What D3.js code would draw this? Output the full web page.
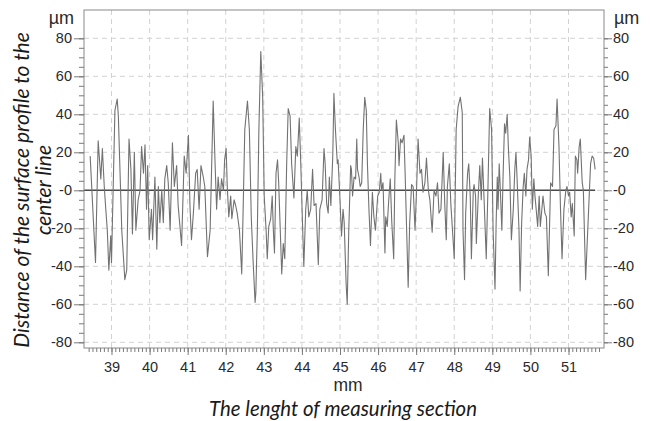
<!DOCTYPE html>
<html>
<head>
<meta charset="utf-8">
<script src="https://cdn.jsdelivr.net/npm/d3@7"></script>
<style>
	body { margin: 0; background: #ffffff; }
	svg { display: block; }
	.profile-axis line { stroke: #7a7a7a; }
	.profile-grid line { stroke: #d2d2d2; stroke-dasharray: 5,4; }
	.profile-title { font-family: Lato, "Open Sans", sans-serif; font-style: italic; fill: #1a1a1a; }
	.profile-unit { font-family: "Liberation Sans", Arial, sans-serif; fill: #2a2a2a; }
</style>
</head>
<body>
<svg id="chart" width="651" height="421"></svg>
<script>

const aProfileMm = [
	38.44, 38.58, 38.65, 38.72, 38.76, 38.81, 38.85, 38.89, 38.93, 38.98, 39.00, 39.09, 39.15, 39.18, 39.27, 39.35,
	39.40, 39.46, 39.51, 39.55, 39.60, 39.64, 39.70, 39.75, 39.79, 39.84, 39.88, 39.92, 39.95, 39.99, 40.05, 40.08,
	40.14, 40.19, 40.23, 40.27, 40.32, 40.36, 40.40, 40.45, 40.49, 40.54, 40.60, 40.65, 40.71, 40.75, 40.84, 40.91,
	40.96, 41.02, 41.06, 41.10, 41.15, 41.21, 41.25, 41.30, 41.35, 41.41, 41.45, 41.52, 41.59, 41.67, 41.72, 41.76,
	41.80, 41.85, 41.89, 41.94, 41.97, 42.01, 42.04, 42.08, 42.13, 42.16, 42.22, 42.26, 42.30, 42.36, 42.42, 42.46,
	42.50, 42.57, 42.62, 42.67, 42.72, 42.77, 42.79, 42.83, 42.87, 42.92, 42.97, 43.01, 43.06, 43.09, 43.13, 43.18,
	43.22, 43.25, 43.28, 43.32, 43.36, 43.39, 43.42, 43.47, 43.51, 43.55, 43.60, 43.64, 43.69, 43.73, 43.79, 43.84,
	43.88, 43.93, 43.97, 44.01, 44.05, 44.10, 44.14, 44.18, 44.23, 44.28, 44.32, 44.37, 44.43, 44.47, 44.53, 44.58,
	44.61, 44.65, 44.69, 44.72, 44.76, 44.81, 44.84, 44.88, 44.93, 44.95, 45.00, 45.04, 45.08, 45.11, 45.16, 45.19,
	45.23, 45.28, 45.30, 45.33, 45.37, 45.41, 45.44, 45.46, 45.50, 45.53, 45.57, 45.61, 45.65, 45.69, 45.72, 45.76,
	45.80, 45.85, 45.89, 45.93, 45.99, 46.03, 46.07, 46.09, 46.13, 46.18, 46.20, 46.24, 46.28, 46.32, 46.36, 46.41,
	46.44, 46.48, 46.53, 46.55, 46.59, 46.63, 46.68, 46.71, 46.75, 46.79, 46.83, 46.88, 46.92, 46.97, 47.01, 47.05,
	47.10, 47.14, 47.18, 47.23, 47.27, 47.32, 47.36, 47.42, 47.47, 47.52, 47.56, 47.60, 47.65, 47.71, 47.75, 47.79,
	47.82, 47.87, 47.91, 48.00, 48.05, 48.10, 48.16, 48.21, 48.23, 48.27, 48.30, 48.35, 48.38, 48.42, 48.45, 48.50,
	48.52, 48.56, 48.58, 48.63, 48.67, 48.71, 48.74, 48.78, 48.84, 48.88, 48.93, 48.98, 49.02, 49.07, 49.10, 49.13,
	49.15, 49.18, 49.21, 49.25, 49.28, 49.32, 49.35, 49.39, 49.42, 49.46, 49.50, 49.55, 49.59, 49.62, 49.65, 49.70,
	49.73, 49.77, 49.81, 49.84, 49.88, 49.91, 49.95, 49.98, 50.02, 50.05, 50.09, 50.12, 50.16, 50.19, 50.23, 50.26,
	50.30, 50.33, 50.38, 50.42, 50.47, 50.53, 50.58, 50.62, 50.67, 50.70, 50.75, 50.79, 50.83, 50.88, 50.93, 50.96,
	51.00, 51.03, 51.07, 51.10, 51.15, 51.18, 51.22, 51.24, 51.28, 51.31, 51.36, 51.39, 51.45, 51.52, 51.58, 51.62,
	51.66, 51.70
];

const aProfileUm = [
	18, -38, 26, 6, 22, 2, -10, -21, -42, -24, -38, 42, 48, 39, -21, -47,
	-42, 27, 11, -23, 20, -21, -5, 0, 23, 9, 24, -10, 13, -26, -10, -26,
	7, -31, 2, -17, 0, -17, 6, 13, 4, -21, 25, 2, 13, -8, -29, 18,
	9, 29, -8, -26, -12, 9, 11, -10, 13, 7, 2, -35, -21, 47, 14, -10,
	7, -5, 6, 0, 16, 22, 2, -14, -3, -15, -5, -8, -12, -21, -44, -7,
	32, 47, 32, -14, -38, -59, -54, -21, 32, 73, 49, -3, -21, -36, -19, -15,
	-3, -21, -33, 9, 16, 4, -14, -44, -28, -36, 14, 43, 39, 14, -4, 23,
	18, 38, 14, -14, -40, -10, 0, -14, -10, 11, -8, -7, -39, -10, -5, 22,
	14, -7, -12, 7, -8, 18, 51, 32, 14, 16, -5, -24, -10, -17, -49, -60,
	-21, 13, 11, -3, 7, 6, 27, 11, 7, 2, 4, 32, 49, 42, 14, -10,
	-29, -1, -14, -21, -3, -1, 9, 0, 4, -33, -14, -19, -5, 6, -17, -36,
	6, 37, 25, 13, 27, 25, 29, 9, -21, -51, -17, 3, 2, -21, 0, 27,
	9, 11, -1, 4, 17, 0, -5, -22, 0, -3, 4, -12, -10, 20, -7, -26,
	2, 14, -7, -36, 32, 44, 49, 41, -21, -47, -12, 9, 14, -3, -36, 0,
	3, -3, -28, -3, 13, -5, 17, -3, -36, -3, 43, 32, -21, -52, -17, 7,
	-10, 14, 0, -21, 6, 35, 30, 40, 23, 7, -26, -10, 11, 20, 6, -21,
	-53, -17, 2, 9, -3, 11, 16, 28, 18, -10, 6, -3, -12, -19, -3, -19,
	-10, -3, -12, -14, -45, 4, 2, 32, 34, 48, 23, -10, -36, -10, 0, 2,
	-3, -1, -14, -7, -24, 18, 16, 9, 23, 27, 4, 0, -47, -14, 14, 18,
	17, 11
];

const aXTickValues = [39, 40, 41, 42, 43, 44, 45, 46, 47, 48, 49, 50, 51];
const aYTickValues = [80, 60, 40, 20, 0, -20, -40, -60, -80];
const aYTickLabels = ['80', '60', '40', '20', '-0', '-20', '-40', '-60', '-80'];
const strXUnit = 'mm';
const strYUnit = '\u00b5m';
const strXTitle = 'The lenght of measuring section';
const aYTitleLines = ['Distance of the surface profile to the', 'center line'];

function DrawProfileChart(vSelector)
{
	var sSvg = d3.select(vSelector);

	var nLeft = 84, nRight = 604, nTop = 10, nBottom = 348;

	var xScale = d3.scaleLinear().domain([38.278, 51.932]).range([nLeft, nRight]);
	var yScale = d3.scaleLinear().domain([-83, 94.9]).range([nBottom, nTop]);

	var aData = aProfileMm.map(function(fMm, i) { return { mm: fMm, um: aProfileUm[i] }; });

	// dashed grid
	var sGrid = sSvg.append('g').attr('class', 'profile-grid');
	sGrid.selectAll('.gx')
		.data(aXTickValues)
		.enter()
			.append('line')
			.attr('class', 'gx')
			.attr('x1', function(d) { return xScale(d); })
			.attr('x2', function(d) { return xScale(d); })
			.attr('y1', nTop)
			.attr('y2', nBottom);
	sGrid.selectAll('.gy')
		.data(aYTickValues)
		.enter()
			.append('line')
			.attr('class', 'gy')
			.attr('x1', nLeft)
			.attr('x2', nRight)
			.attr('y1', function(d) { return yScale(d); })
			.attr('y2', function(d) { return yScale(d); });

	// centre line
	sSvg.append('line')
		.attr('x1', nLeft)
		.attr('x2', xScale(d3.max(aProfileMm)))
		.attr('y1', yScale(0))
		.attr('y2', yScale(0))
		.style('stroke', '#4a4a4a')
		.style('stroke-width', 1.4);

	// profile
	var fnLine = d3.line()
		.x(function(d) { return xScale(d.mm); })
		.y(function(d) { return yScale(d.um); });

	sSvg.append('path')
		.datum(aData)
		.attr('d', fnLine)
		.style('fill', 'none')
		.style('stroke', '#727272')
		.style('stroke-width', 1.1)
		.style('stroke-linejoin', 'round');

	// frame
	sSvg.append('rect')
		.attr('x', nLeft)
		.attr('y', nTop)
		.attr('width', nRight - nLeft)
		.attr('height', nBottom - nTop)
		.style('fill', 'none')
		.style('stroke', '#8a8a8a')
		.style('stroke-width', 1);

	// axes
	var aYMinor = d3.range(-80, 81, 5);
	var aXMinor = d3.range(384, 519).map(function(n) { return n / 10; });

	function AddAxis(fnAxis, strTransform)
	{
		var sAxis = sSvg.append('g')
			.attr('class', 'profile-axis')
			.attr('transform', strTransform)
			.call(fnAxis);
		sAxis.select('.domain').remove();
		sAxis.selectAll('text')
			.style('font-family', '"Liberation Sans", Arial, sans-serif')
			.style('font-size', '14.5px')
			.style('fill', '#2a2a2a');
		return sAxis;
	}

	AddAxis(d3.axisLeft(yScale).tickValues(aYMinor).tickSize(5).tickFormat(''), 'translate(' + nLeft + ',0)');
	AddAxis(d3.axisLeft(yScale).tickValues(aYTickValues).tickSize(10).tickPadding(2)
		.tickFormat(function(d, i) { return aYTickLabels[i]; }), 'translate(' + nLeft + ',0)');

	AddAxis(d3.axisRight(yScale).tickValues(aYMinor).tickSize(4).tickFormat(''), 'translate(' + nRight + ',0)');
	AddAxis(d3.axisRight(yScale).tickValues(aYTickValues).tickSize(8).tickPadding(1)
		.tickFormat(function(d, i) { return aYTickLabels[i]; }), 'translate(' + nRight + ',0)');

	AddAxis(d3.axisBottom(xScale).tickValues(aXMinor).tickSize(4).tickFormat(''), 'translate(0,' + nBottom + ')');
	AddAxis(d3.axisBottom(xScale).tickValues(aXTickValues).tickSize(7).tickPadding(7)
		.tickFormat(d3.format('d')), 'translate(0,' + nBottom + ')');

	// units
	sSvg.append('text').attr('class', 'profile-unit').style('font-size', '18px')
		.attr('x', 74).attr('y', 24).attr('text-anchor', 'end').text(strYUnit);
	sSvg.append('text').attr('class', 'profile-unit').style('font-size', '18px')
		.attr('x', 614).attr('y', 24).text(strYUnit);
	sSvg.append('text').attr('class', 'profile-unit').style('font-size', '17.5px')
		.attr('x', 348).attr('y', 391).attr('text-anchor', 'middle').text(strXUnit);

	// titles
	sSvg.append('text').attr('class', 'profile-title')
		.attr('x', 343).attr('y', 416)
		.attr('text-anchor', 'middle')
		.style('font-size', '20.4px')
		.text(strXTitle);

	var aTitleBase = [29, 51];
	aYTitleLines.forEach(function(strLine, i)
	{
		sSvg.append('text').attr('class', 'profile-title')
			.attr('transform', 'translate(' + aTitleBase[i] + ',190) rotate(-90)')
			.attr('text-anchor', 'middle')
			.style('font-size', '21px')
			.text(strLine);
	});
}

DrawProfileChart('#chart');

</script>
</body>
</html>
